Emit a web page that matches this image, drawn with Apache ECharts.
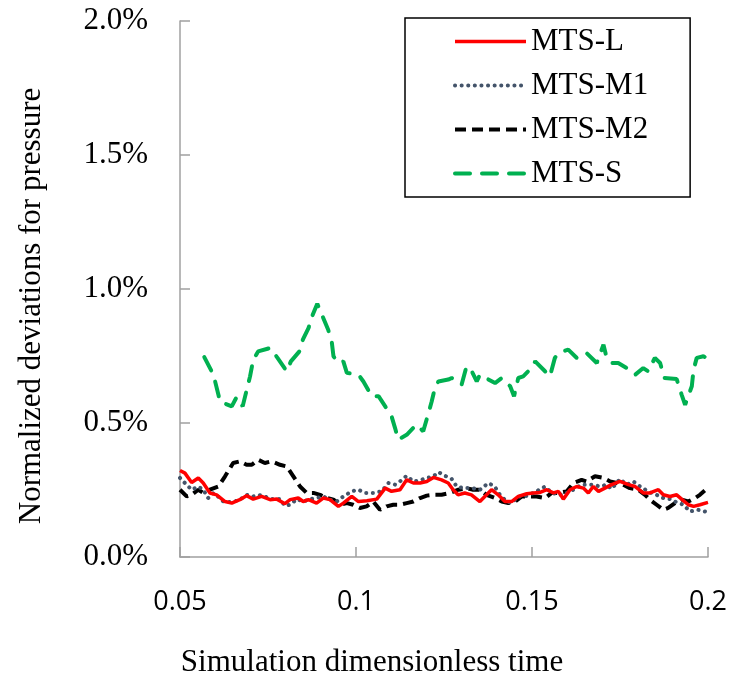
<!DOCTYPE html>
<html>
<head>
<meta charset="utf-8">
<script src="https://cdn.jsdelivr.net/npm/echarts@6/dist/echarts.min.js"></script>
<style>html,body{margin:0;padding:0;background:#fff}#c{width:731px;height:681px}</style>
</head>
<body>
<div id="c"></div>
<script>
// Values in percent, [time, deviation %]
const seriesNames = ["MTS-L", "MTS-M1", "MTS-M2", "MTS-S"];
const xTicks = [0.05, 0.1, 0.15, 0.2];
const yTicks = [0, 0.5, 1.0, 1.5, 2.0];

const mtsL = [[0.05,0.323],[0.0514,0.313],[0.0533,0.278],[0.0552,0.295],[0.0566,0.276],[0.0585,0.239],[0.0604,0.232],[0.0628,0.207],[0.0647,0.201],[0.067,0.214],[0.0689,0.229],[0.0708,0.216],[0.0732,0.226],[0.0756,0.214],[0.0775,0.216],[0.0798,0.199],[0.0813,0.214],[0.0836,0.22],[0.085,0.207],[0.0865,0.214],[0.0888,0.201],[0.0907,0.22],[0.0926,0.214],[0.095,0.189],[0.0964,0.201],[0.0988,0.226],[0.1007,0.207],[0.1031,0.21],[0.1059,0.216],[0.1083,0.257],[0.1101,0.245],[0.1125,0.251],[0.1144,0.288],[0.1163,0.276],[0.1182,0.276],[0.1201,0.282],[0.122,0.297],[0.1243,0.288],[0.1262,0.276],[0.1276,0.251],[0.129,0.232],[0.1309,0.239],[0.1328,0.232],[0.1352,0.207],[0.1366,0.226],[0.1385,0.251],[0.1404,0.232],[0.1423,0.207],[0.1442,0.207],[0.1461,0.226],[0.1485,0.236],[0.1504,0.239],[0.1523,0.241],[0.1542,0.251],[0.1561,0.239],[0.1575,0.245],[0.1589,0.216],[0.1608,0.251],[0.1627,0.263],[0.1646,0.257],[0.166,0.239],[0.1674,0.263],[0.1689,0.245],[0.1707,0.257],[0.1726,0.27],[0.175,0.282],[0.1774,0.27],[0.1793,0.263],[0.1816,0.239],[0.1835,0.239],[0.1859,0.251],[0.1873,0.232],[0.1892,0.226],[0.1911,0.232],[0.1925,0.216],[0.1944,0.195],[0.1959,0.189],[0.1977,0.195],[0.2,0.204]];

const mtsM1 = [[0.05,0.295],[0.0514,0.276],[0.0533,0.251],[0.0552,0.263],[0.0566,0.251],[0.058,0.22],[0.0595,0.239],[0.0614,0.22],[0.0623,0.207],[0.0647,0.204],[0.067,0.214],[0.0689,0.232],[0.0708,0.226],[0.0722,0.232],[0.0741,0.226],[0.076,0.216],[0.0784,0.216],[0.0798,0.191],[0.0813,0.195],[0.0832,0.216],[0.085,0.207],[0.0869,0.216],[0.0888,0.22],[0.0907,0.226],[0.0926,0.214],[0.0945,0.207],[0.0964,0.226],[0.0988,0.245],[0.1007,0.251],[0.1026,0.239],[0.1049,0.239],[0.1073,0.245],[0.1092,0.276],[0.1111,0.27],[0.1125,0.282],[0.1144,0.303],[0.1163,0.282],[0.1182,0.286],[0.1201,0.295],[0.122,0.301],[0.1234,0.317],[0.1253,0.303],[0.1272,0.291],[0.1286,0.263],[0.1305,0.257],[0.1329,0.257],[0.1352,0.251],[0.1376,0.276],[0.1394,0.263],[0.1409,0.232],[0.1428,0.207],[0.1442,0.201],[0.1461,0.226],[0.148,0.226],[0.1504,0.239],[0.1537,0.263],[0.1556,0.239],[0.158,0.232],[0.1599,0.239],[0.1617,0.251],[0.1641,0.27],[0.1655,0.27],[0.1674,0.27],[0.1693,0.263],[0.1712,0.27],[0.1726,0.254],[0.175,0.291],[0.1769,0.27],[0.1788,0.282],[0.1807,0.263],[0.1835,0.241],[0.1854,0.232],[0.1873,0.22],[0.1892,0.216],[0.1906,0.207],[0.193,0.195],[0.1949,0.17],[0.1972,0.176],[0.1991,0.17],[0.2,0.168]];

const mtsM2 = [[0.05,0.251],[0.0519,0.226],[0.0533,0.232],[0.0552,0.251],[0.0566,0.239],[0.0585,0.251],[0.0609,0.263],[0.0628,0.301],[0.0651,0.351],[0.067,0.357],[0.0689,0.344],[0.0704,0.344],[0.0722,0.363],[0.0741,0.351],[0.076,0.357],[0.0784,0.344],[0.0803,0.338],[0.0822,0.301],[0.0841,0.263],[0.086,0.239],[0.0879,0.239],[0.0898,0.232],[0.0917,0.22],[0.0936,0.214],[0.0955,0.195],[0.0974,0.201],[0.0992,0.195],[0.1011,0.183],[0.103,0.189],[0.1049,0.207],[0.1068,0.176],[0.1087,0.189],[0.1106,0.195],[0.1125,0.195],[0.1144,0.201],[0.1163,0.207],[0.1182,0.22],[0.1201,0.229],[0.122,0.232],[0.1243,0.232],[0.1267,0.239],[0.1291,0.251],[0.1314,0.257],[0.1333,0.251],[0.1352,0.251],[0.1371,0.232],[0.1395,0.22],[0.1414,0.207],[0.1433,0.201],[0.1452,0.207],[0.1471,0.226],[0.1494,0.226],[0.1513,0.226],[0.1537,0.22],[0.1556,0.239],[0.1575,0.239],[0.1599,0.245],[0.1618,0.276],[0.1641,0.288],[0.1655,0.282],[0.1679,0.301],[0.1703,0.295],[0.1722,0.282],[0.1741,0.276],[0.1759,0.27],[0.1778,0.257],[0.1802,0.251],[0.1821,0.232],[0.1835,0.214],[0.1854,0.195],[0.1873,0.176],[0.1887,0.183],[0.1906,0.201],[0.1925,0.214],[0.1944,0.207],[0.1963,0.22],[0.1977,0.232],[0.1996,0.254]];

const mtsS = [[0.0569,0.746],[0.0595,0.68],[0.0614,0.58],[0.0647,0.562],[0.0661,0.597],[0.0678,0.562],[0.0699,0.674],[0.0708,0.736],[0.0722,0.767],[0.0756,0.78],[0.0777,0.743],[0.0803,0.693],[0.0815,0.73],[0.0839,0.767],[0.0849,0.811],[0.0865,0.854],[0.0877,0.904],[0.089,0.945],[0.0903,0.904],[0.0921,0.848],[0.0931,0.804],[0.0936,0.749],[0.095,0.724],[0.0964,0.73],[0.0974,0.687],[0.1007,0.68],[0.1021,0.655],[0.1045,0.6],[0.1064,0.6],[0.1083,0.562],[0.1101,0.525],[0.1111,0.481],[0.112,0.438],[0.1144,0.456],[0.1172,0.494],[0.1191,0.469],[0.1206,0.537],[0.1215,0.58],[0.1224,0.63],[0.1234,0.655],[0.1262,0.662],[0.1272,0.668],[0.13,0.643],[0.1314,0.711],[0.1329,0.693],[0.1343,0.655],[0.1352,0.68],[0.1395,0.649],[0.1414,0.668],[0.1438,0.637],[0.1449,0.6],[0.1461,0.668],[0.1475,0.674],[0.1494,0.699],[0.1509,0.73],[0.1537,0.693],[0.1551,0.674],[0.1565,0.743],[0.1575,0.761],[0.1603,0.774],[0.1627,0.743],[0.1655,0.761],[0.1684,0.724],[0.1703,0.792],[0.171,0.755],[0.1726,0.724],[0.1745,0.724],[0.1769,0.705],[0.1793,0.68],[0.1816,0.705],[0.183,0.693],[0.1849,0.743],[0.1864,0.724],[0.1876,0.668],[0.1911,0.664],[0.1925,0.606],[0.1935,0.568],[0.1954,0.637],[0.1959,0.699],[0.1968,0.743],[0.1987,0.749],[0.2,0.74]];

const serif = '"Liberation Serif", "Times New Roman", serif';
const sans = '"Open Sans", "Liberation Sans", sans-serif';
const axisGray = '#a0a0a0';

const styles = [
  {color: '#ff0000', width: 3.5, type: 'solid', cap: 'butt'},
  {color: '#44546a', width: 4, type: [0.1, 6.5], cap: 'round'},
  {color: '#000000', width: 4, type: [11, 6], cap: 'butt'},
  {color: '#00b050', width: 4, type: [15, 12], cap: 'round'}
];
const seriesData = [mtsL, mtsM1, mtsM2, mtsS];

const chart = echarts.init(document.getElementById('c'), null, {renderer: 'canvas'});
chart.setOption({
  animation: false,
  backgroundColor: '#fff',
  grid: {left: 180, right: 23, top: 21, bottom: 124, containLabel: false},
  xAxis: {
    type: 'value', min: xTicks[0], max: xTicks[xTicks.length - 1], interval: 0.05,
    axisLine: {show: true, lineStyle: {color: axisGray, width: 1.5}},
    axisTick: {show: true, inside: true, length: 10, lineStyle: {color: axisGray, width: 1.5}},
    splitLine: {show: false},
    axisLabel: {
      fontFamily: sans, fontSize: 27, color: '#000', margin: 30, lineHeight: 30,
      formatter: v => String(+v.toFixed(2))
    }
  },
  yAxis: {
    type: 'value', min: yTicks[0], max: yTicks[yTicks.length - 1], interval: 0.5,
    axisLine: {show: true, lineStyle: {color: axisGray, width: 1.5}},
    axisTick: {show: true, inside: true, length: 10, lineStyle: {color: axisGray, width: 1.5}},
    splitLine: {show: false},
    axisLabel: {
      fontFamily: serif, fontSize: 31, color: '#000', margin: 32,
      formatter: v => v.toFixed(1) + '%'
    }
  },
  legend: {
    data: seriesNames.map((n, i) => ({name: n, lineStyle: {width: styles[i].width, type: styles[i].type, cap: styles[i].cap, color: styles[i].color}})),
    orient: 'vertical', left: 405, top: 18,
    itemWidth: 71, itemHeight: 2, itemGap: 13,
    padding: [8, 42, 8, 48],
    borderColor: '#000', borderWidth: 1.5,
    itemStyle: {opacity: 0},
    textStyle: {fontFamily: serif, fontSize: 31, color: '#000', lineHeight: 30}
  },
  graphic: [
    {type: 'text', x: 372, y: 663, style: {text: 'Simulation dimensionless time', font: '31px ' + serif, fill: '#000', textAlign: 'center', textVerticalAlign: 'middle'}},
    {type: 'text', x: 32, y: 306, rotation: Math.PI / 2, style: {text: 'Normalized deviations for pressure', font: '31px ' + serif, fill: '#000', textAlign: 'center', textVerticalAlign: 'middle'}}
  ],
  series: seriesNames.map((n, i) => ({
    name: n, type: 'line', data: seriesData[i], symbol: 'none',
    lineStyle: styles[i], itemStyle: {color: styles[i].color}, z: 5 - i
  }))
});
</script>
</body>
</html>
